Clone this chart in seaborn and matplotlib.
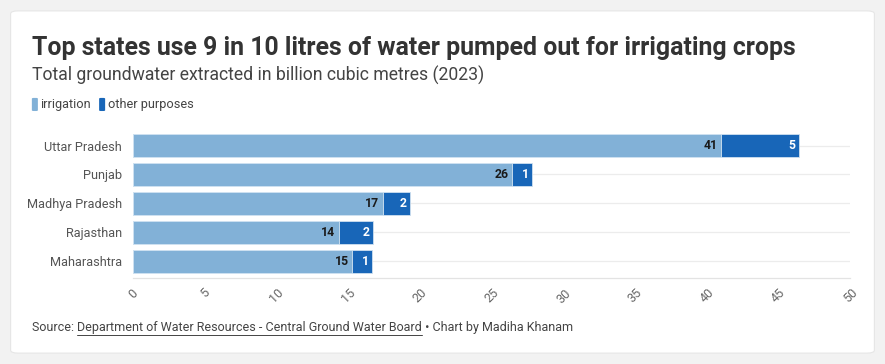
import matplotlib
matplotlib.use("Agg")
import matplotlib.pyplot as plt
import seaborn as sns
import pandas as pd
from matplotlib.patches import FancyBboxPatch

states = ["Uttar Pradesh", "Punjab", "Madhya Pradesh", "Rajasthan", "Maharashtra"]
irrigation = [40.98, 26.4, 17.39, 14.32, 15.27]
other = [5.44, 1.43, 1.91, 2.42, 1.4]
xticks = [0, 5, 10, 15, 20, 25, 30, 35, 40, 45, 50]

light = "#82b1d7"
dark = "#1866b8"

df = pd.DataFrame({"state": states, "irrigation": irrigation, "other": other})
df["total"] = df["irrigation"] + df["other"]

sns.set_style("white")
plt.rcParams["font.family"] = ["Roboto", "DejaVu Sans"]

fig = plt.figure(figsize=(8.85, 3.64), dpi=100)
fig.patch.set_facecolor("#f2f2f2")
card = FancyBboxPatch((0.012, 0.03), 0.976, 0.94, boxstyle="round,pad=0,rounding_size=0.008",
                      transform=fig.transFigure, facecolor="white", edgecolor="#e6e6e6", lw=0.8,
                      zorder=-5)
fig.patches.append(card)

ax = fig.add_axes([0.1506, 0.236, 0.8102, 0.404])
ax.set_facecolor("none")
ax.set_zorder(2)

# horizontal guide lines through bar centres
for i in range(len(states)):
    ax.axhline(i, color="#ececec", lw=0.9, zorder=0)

sns.barplot(data=df, x="total", y="state", color=dark, width=0.8, edgecolor="#cfe0f0",
            linewidth=0.6, saturation=1, ax=ax, zorder=2)
sns.barplot(data=df, x="irrigation", y="state", color=light, width=0.8, edgecolor="#d6e6f3",
            linewidth=0.6, saturation=1, ax=ax, zorder=3)

for i, (irr, oth) in enumerate(zip(irrigation, other)):
    ax.text(irr - 0.25, i, f"{round(irr)}", ha="right", va="center", fontsize=8.8,
            fontweight="bold", color="#1a1a1a", zorder=5)
    ax.text(irr + oth - 0.25, i, f"{round(oth)}", ha="right", va="center", fontsize=8.8,
            fontweight="bold", color="white", zorder=5)

ax.set_xlim(0, 50)
ax.set_ylim(len(states) - 0.5 + 0.08, -0.5)
ax.set_xticks(xticks)
ax.set_xticklabels([str(t) for t in xticks], rotation=45, fontsize=9, color="#666666")
ax.tick_params(axis="x", length=4, width=0.8, color="#e3e3e3", pad=2)
ax.tick_params(axis="y", length=0, pad=8, labelsize=9.2, labelcolor="#555555")
ax.set_xlabel("")
ax.set_ylabel("")
for s in ["top", "right", "left"]:
    ax.spines[s].set_visible(False)
ax.spines["bottom"].set_color("#e3e3e3")
ax.spines["bottom"].set_linewidth(0.9)

# titles
fig.text(0.036, 0.868, "Top states use 9 in 10 litres of water pumped out for irrigating crops",
         fontsize=17.9, fontweight="bold", color="#333333", va="center")
fig.text(0.036, 0.793, "Total groundwater extracted in billion cubic metres (2023)",
         fontsize=12.7, color="#444444", va="center")

# legend
lg_y = 0.712
for x0, col, lab in [(0.036, light, "irrigation"), (0.112, dark, "other purposes")]:
    fig.patches.append(FancyBboxPatch((x0, lg_y - 0.017), 0.0068, 0.036,
                                      boxstyle="round,pad=0,rounding_size=0.002",
                                      transform=fig.transFigure, facecolor=col, edgecolor="none"))
    fig.text(x0 + 0.0095, lg_y, lab, fontsize=9.2, color="#444444", va="center")

# source
fig.canvas.draw()
r = fig.canvas.get_renderer()
t1 = fig.text(0.036, 0.092, "Source: ", fontsize=9, color="#444444", va="baseline")
bb = t1.get_window_extent(r)
x1 = bb.x1 / fig.bbox.width
t2 = fig.text(x1, 0.092, "Department of Water Resources - Central Ground Water Board", fontsize=9,
              color="#444444", va="baseline")
bb2 = t2.get_window_extent(r)
x2 = bb2.x1 / fig.bbox.width
fig.add_artist(plt.Line2D([x1, x2], [0.08, 0.08], transform=fig.transFigure, color="#444444", lw=0.7))
fig.text(x2, 0.092, " \u2022 Chart by Madiha Khanam", fontsize=9, color="#444444", va="baseline")

fig.savefig("out.png", dpi=100, facecolor=fig.get_facecolor())
